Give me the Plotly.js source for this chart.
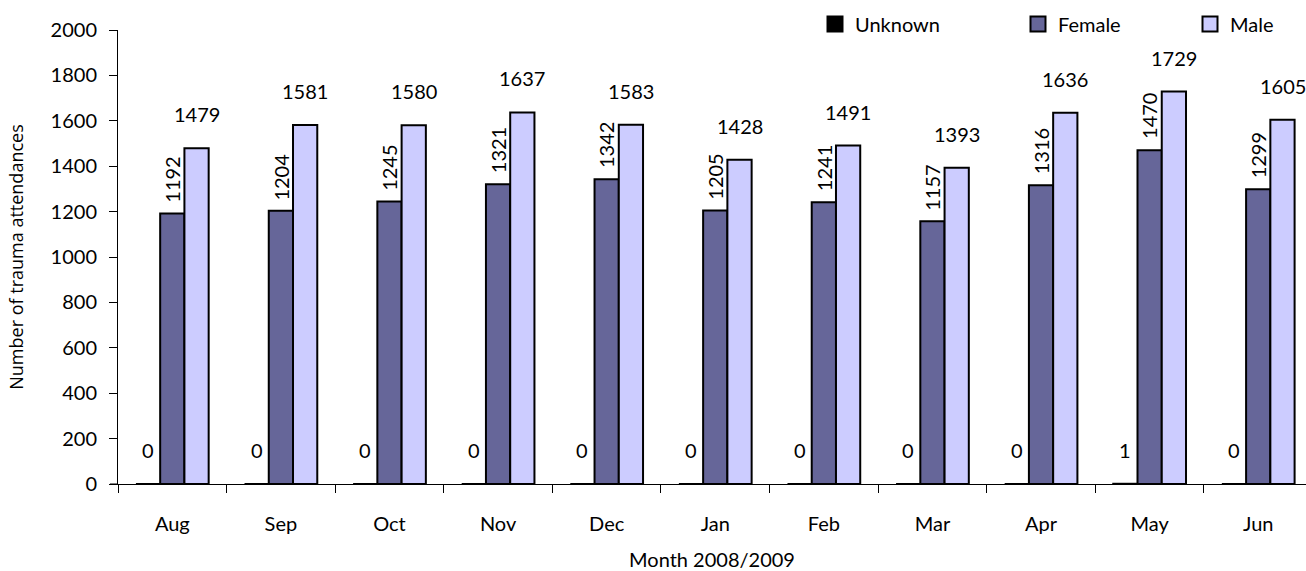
<!DOCTYPE html>
<html>
<head>
<meta charset="utf-8">
<script src="https://cdn.plot.ly/plotly-3.0.1.min.js"></script>
<style>html,body{margin:0;padding:0;background:#fff;}#chart{width:1306px;height:571px;}</style>
</head>
<body>
<div id="chart"></div>
<script>
const months = ["Aug","Sep","Oct","Nov","Dec","Jan","Feb","Mar","Apr","May","Jun"];
const unknownVals = [0,0,0,0,0,0,0,0,0,1,0];
const femaleVals = [1192,1204,1245,1321,1342,1205,1241,1157,1316,1470,1299];
const maleVals = [1479,1581,1580,1637,1583,1428,1491,1393,1636,1729,1605];
const yTicks = [0,200,400,600,800,1000,1200,1400,1600,1800,2000];
const seriesNames = ["Unknown","Female","Male"];
const seriesColors = ["#000000","#666699","#CCCCFF"];

const FONT = "Lato, 'Open Sans', sans-serif";
const TFONT = "'Open Sans', sans-serif";
const FS = 20;
const lineStyle = {color:"#000000", width:2};
const seriesVals = [unknownVals, femaleVals, maleVals];
const legendIds = ["legend","legend2","legend3"];

const traces = seriesVals.map((vals,k)=>({
  type:"bar", name:seriesNames[k], x:months, y:vals,
  marker:{color:seriesColors[k], line:lineStyle}, showlegend:false, hoverinfo:"none"
}));
// legend-only entries with larger square swatches
seriesNames.forEach((n,k)=>{
  traces.push({type:"scatter", mode:"markers", name:n, x:[null], y:[null],
    marker:{symbol:"square", size:15, color:seriesColors[k], line:{color:"#000", width:2}},
    legend:legendIds[k], hoverinfo:"none"});
});

const barPx = 24.3;
const annotations = [];
months.forEach((m,i)=>{
  annotations.push({x:m, y:unknownVals[i], xref:"x", yref:"y", text:String(unknownVals[i]), showarrow:false, xshift:-barPx, yshift:34, xanchor:"center", yanchor:"middle", font:{family:FONT,size:FS,color:"#000"}});
  annotations.push({x:m, y:femaleVals[i], xref:"x", yref:"y", text:String(femaleVals[i]), showarrow:false, xshift:0, yshift:34, textangle:-90, xanchor:"center", yanchor:"middle", font:{family:FONT,size:FS,color:"#000"}});
  annotations.push({x:m, y:maleVals[i], xref:"x", yref:"y", text:String(maleVals[i]), showarrow:false, xshift:barPx, yshift:34, xanchor:"center", yanchor:"middle", font:{family:FONT,size:FS,color:"#000"}});
});

const legBase = {orientation:"h", yanchor:"middle", xanchor:"left", y:1.013, bgcolor:"rgba(0,0,0,0)", itemwidth:30, font:{family:FONT,size:FS,color:"#000"}};

const layout = {
  width:1306, height:571,
  margin:{l:118, r:0, t:30, b:87},
  paper_bgcolor:"#ffffff", plot_bgcolor:"#ffffff",
  font:{family:FONT, size:FS, color:"#000"},
  barmode:"group", bargap:0.33, bargroupgap:0,
  legend:Object.assign({}, legBase, {x:(815-118)/1188}),
  legend2:Object.assign({}, legBase, {x:(1018-118)/1188}),
  legend3:Object.assign({}, legBase, {x:(1190-118)/1188}),
  xaxis:{
    type:"category", range:[-0.5, 10.44], tickson:"boundaries",
    ticks:"outside", ticklen:8, tickwidth:1, tickcolor:"#000",
    showline:true, linecolor:"#000", linewidth:1,
    showgrid:false, zeroline:false, ticklabelstandoff:22,
    tickfont:{family:FONT,size:FS,color:"#000"},
    title:{text:"Month 2008/2009", font:{family:FONT,size:FS,color:"#000"}, standoff:21}
  },
  yaxis:{
    range:[0,2000], tickvals:yTicks, ticktext:yTicks.map(String),
    ticks:"outside", ticklen:8, tickwidth:1, tickcolor:"#000",
    showline:true, linecolor:"#000", linewidth:1,
    showgrid:false, zeroline:false, ticklabelstandoff:8,
    tickfont:{family:FONT,size:FS,color:"#000"},
    title:{text:"Number of trauma attendances", font:{family:TFONT,size:18,color:"#000"}, standoff:22}
  },
  shapes:[{type:"line", xref:"paper", yref:"y", x0:-8/1188, x1:0, y0:0, y1:0, line:{color:"#000", width:1}}],
  annotations:annotations
};

Plotly.newPlot("chart", traces, layout, {displayModeBar:false, staticPlot:true});
</script>
</body>
</html>
